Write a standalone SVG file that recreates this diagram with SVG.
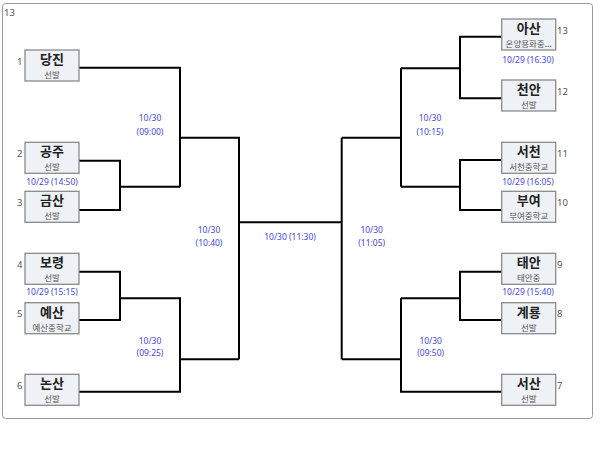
<svg xmlns="http://www.w3.org/2000/svg" width="600" height="452" viewBox="0 0 600 452">
<style>
.box{fill:#eef1f5;stroke:#8a8a8a;stroke-width:1.3}
.nm{font-family:"Noto Sans CJK KR","Noto Sans",sans-serif;font-size:13px;font-weight:bold;fill:#222;text-anchor:middle}
.sb{font-family:"Noto Sans CJK KR","Noto Sans",sans-serif;font-size:8.5px;fill:#555;text-anchor:middle}
.sd{font-family:"Noto Sans","Noto Sans CJK KR",sans-serif;font-size:9.5px;fill:#555}
.dt{font-family:"Noto Sans","Noto Sans CJK KR",sans-serif;font-size:8.5px;fill:#4848d8;text-anchor:middle}
.ln{fill:none;stroke:#000;stroke-width:2}
</style>
<rect x="2.5" y="3.5" width="590" height="415" rx="3" fill="#fff" stroke="#999" stroke-width="1"/>
<text x="4" y="15.5" class="sd" fill="#446">13</text>
<g id="connectors">
<path class="ln" d="M79 67.7H180V186.7M79 160.7H120V210H79M120 186.7H180M180 137.7H239V359.3M79 271.7H120V320H79M120 298.3H180V391.7H79M180 359.3H239M239 222.3H341.7M341.7 137.7V359.3M341.7 137.7H401M401 68.3V186.7M401 68.3H460M501.7 36.7H460V98.3H501.7M401 186.7H460M501.7 160H460V210H501.7M341.7 359.3H401M401 298.3V391.7H501.7M401 298.3H460M501.7 271.7H460V320H501.7"/>
</g>
<g id="labels">
<text class="dt" x="150" y="121">10/30</text><text class="dt" x="150" y="134.7">(09:00)</text>
<text class="dt" x="209" y="233">10/30</text><text class="dt" x="209" y="245.7">(10:40)</text>
<text class="dt" x="290" y="239.7">10/30 (11:30)</text>
<text class="dt" x="371.7" y="233">10/30</text><text class="dt" x="371.7" y="245.7">(11:05)</text>
<text class="dt" x="430" y="121">10/30</text><text class="dt" x="430" y="134.7">(10:15)</text>
<text class="dt" x="150" y="343.7">10/30</text><text class="dt" x="150" y="356.3">(09:25)</text>
<text class="dt" x="430.7" y="343.7">10/30</text><text class="dt" x="430.7" y="356.3">(09:50)</text>
<text class="dt" x="52" y="184.7">10/29 (14:50)</text>
<text class="dt" x="52" y="295.3">10/29 (15:15)</text>
<text class="dt" x="528" y="63">10/29 (16:30)</text>
<text class="dt" x="528" y="184.7">10/29 (16:05)</text>
<text class="dt" x="528" y="295.3">10/29 (15:40)</text>
</g>
<g id="n1"><rect class="box" x="25" y="50" width="54" height="31"/><text class="nm" x="52" y="64">당진</text><text class="sb" x="52" y="78">선발</text><text class="sd" x="17" y="64.5">1</text></g>
<g id="n2"><rect class="box" x="25" y="142.3" width="54" height="31"/><text class="nm" x="52" y="156.3">공주</text><text class="sb" x="52" y="170.3">선발</text><text class="sd" x="17" y="157">2</text></g>
<g id="n3"><rect class="box" x="25" y="191.3" width="54" height="31"/><text class="nm" x="52" y="205.3">금산</text><text class="sb" x="52" y="219.3">선발</text><text class="sd" x="17" y="205.5">3</text></g>
<g id="n4"><rect class="box" x="25" y="253.3" width="54" height="31"/><text class="nm" x="52" y="267.3">보령</text><text class="sb" x="52" y="281.3">선발</text><text class="sd" x="17" y="267.5">4</text></g>
<g id="n5"><rect class="box" x="25" y="302.7" width="54" height="31"/><text class="nm" x="52" y="316.7">예산</text><text class="sb" x="52" y="330.7">예산중학교</text><text class="sd" x="17" y="316.5">5</text></g>
<g id="n6"><rect class="box" x="25" y="374.3" width="54" height="31"/><text class="nm" x="52" y="388.3">논산</text><text class="sb" x="52" y="402.3">선발</text><text class="sd" x="17" y="388.5">6</text></g>
<g id="n13"><rect class="box" x="501.7" y="19" width="54" height="31"/><text class="nm" x="528.7" y="33">아산</text><text class="sb" x="528.7" y="47">온양용화중...</text><text class="sd" x="557" y="33.5" fill="#7a6a4a">13</text></g>
<g id="n12"><rect class="box" x="501.7" y="80" width="54" height="31"/><text class="nm" x="528.7" y="94">천안</text><text class="sb" x="528.7" y="108">선발</text><text class="sd" x="557" y="95">12</text></g>
<g id="n11"><rect class="box" x="501.7" y="142.3" width="54" height="31"/><text class="nm" x="528.7" y="156.3">서천</text><text class="sb" x="528.7" y="170.3">서천중학교</text><text class="sd" x="557" y="156.5">11</text></g>
<g id="n10"><rect class="box" x="501.7" y="191.3" width="54" height="31"/><text class="nm" x="528.7" y="205.3">부여</text><text class="sb" x="528.7" y="219.3">부여중학교</text><text class="sd" x="557" y="205.5">10</text></g>
<g id="n9"><rect class="box" x="501.7" y="253.3" width="54" height="31"/><text class="nm" x="528.7" y="267.3">태안</text><text class="sb" x="528.7" y="281.3">태안중</text><text class="sd" x="557" y="267.5">9</text></g>
<g id="n8"><rect class="box" x="501.7" y="302.7" width="54" height="31"/><text class="nm" x="528.7" y="316.7">계룡</text><text class="sb" x="528.7" y="330.7">선발</text><text class="sd" x="557" y="316.5">8</text></g>
<g id="n7"><rect class="box" x="501.7" y="374.3" width="54" height="31"/><text class="nm" x="528.7" y="388.3">서산</text><text class="sb" x="528.7" y="402.3">선발</text><text class="sd" x="557" y="388.5">7</text></g>
</svg>
